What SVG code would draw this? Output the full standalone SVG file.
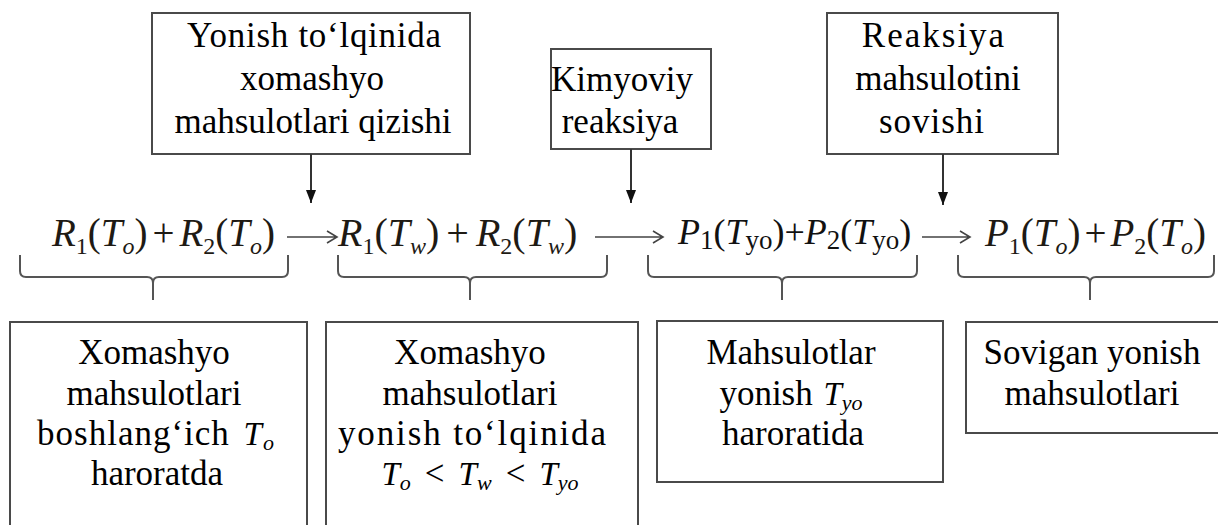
<svg xmlns="http://www.w3.org/2000/svg" width="1218" height="525" viewBox="0 0 1218 525">
<style>
  .box { fill: #fff; stroke: #4a4a4a; stroke-width: 2; }
  .t { font-family: "Liberation Serif", "Times New Roman", Tinos, serif; font-size: 35px; fill: #000; text-anchor: middle; }
  .eq { font-family: "Liberation Serif", "Times New Roman", Tinos, serif; font-size: 39px; fill: #1e1a14; }
  .eqw { font-size: 40px; }
  .eq2 { font-family: "Liberation Serif", "Times New Roman", Tinos, serif; font-size: 36px; fill: #111; }
  .i { font-style: italic; }
  .s { font-size: 24px; }
  .s2 { font-size: 27px; }
  .mT { font-size: 33px; font-style: italic; }
  .ms { font-size: 22px; font-style: italic; }
  .conn { stroke: #333; stroke-width: 2; fill: none; }
  .arr { stroke: #444; stroke-width: 1.6; fill: none; }
  .brace { stroke: #555; stroke-width: 2; fill: none; }
</style>
<defs>
  <marker id="head" markerUnits="userSpaceOnUse" markerWidth="13" markerHeight="10" refX="13" refY="5" orient="auto">
    <path d="M0,0 L13,5 L0,10 z" fill="#111"/>
  </marker>
</defs>
<rect width="1218" height="525" fill="#fff"/>

<g id="box-heating">
  <rect class="box" x="152" y="13" width="318" height="141"/>
  <text class="t" x="314" y="47" textLength="254" lengthAdjust="spacing">Yonish to‘lqinida</text>
  <text class="t" x="312" y="90">xomashyo</text>
  <text class="t" x="313" y="133">mahsulotlari qizishi</text>
</g>
<g id="box-reaction">
  <rect class="box" x="551" y="49" width="160" height="100"/>
  <text class="t" x="622" y="91">Kimyoviy</text>
  <text class="t" x="620" y="133">reaksiya</text>
</g>
<g id="box-cooling">
  <rect class="box" x="827" y="13" width="231" height="141"/>
  <text class="t" x="934" y="47" letter-spacing="2">Reaksiya</text>
  <text class="t" x="938" y="90">mahsulotini</text>
  <text class="t" x="932" y="133" letter-spacing="1">sovishi</text>
</g>

<g id="formula">
  <text class="eq" x="52" y="246"><tspan class="i">R</tspan><tspan class="s" dy="8">1</tspan><tspan dy="-8">(</tspan><tspan class="i">T</tspan><tspan class="s i" dy="8">o</tspan><tspan dy="-8">)</tspan><tspan dx="5">+</tspan><tspan class="i" dx="5">R</tspan><tspan class="s" dy="8">2</tspan><tspan dy="-8">(</tspan><tspan class="i">T</tspan><tspan class="s i" dy="8">o</tspan><tspan dy="-8">)</tspan></text>
  <text class="eq eqw" x="338" y="246"><tspan class="i">R</tspan><tspan class="s" dy="8">1</tspan><tspan dy="-8">(</tspan><tspan class="i">T</tspan><tspan class="s i" dy="8">w</tspan><tspan dy="-8">)</tspan><tspan dx="7">+</tspan><tspan class="i" dx="7">R</tspan><tspan class="s" dy="8">2</tspan><tspan dy="-8">(</tspan><tspan class="i">T</tspan><tspan class="s i" dy="8">w</tspan><tspan dy="-8">)</tspan></text>
  <text class="eq2" x="678" y="244"><tspan class="i">P</tspan><tspan class="s2" dy="5">1</tspan><tspan dy="-5">(</tspan><tspan class="i">T</tspan><tspan class="s2" dy="5">yo</tspan><tspan dy="-5">)+</tspan><tspan class="i">P</tspan><tspan class="s2" dy="5">2</tspan><tspan dy="-5">(</tspan><tspan class="i">T</tspan><tspan class="s2" dy="5">yo</tspan><tspan dy="-5">)</tspan></text>
  <text class="eq" x="985" y="246"><tspan class="i">P</tspan><tspan class="s" dy="8">1</tspan><tspan dy="-8">(</tspan><tspan class="i">T</tspan><tspan class="s i" dy="8">o</tspan><tspan dy="-8">)</tspan><tspan dx="4">+</tspan><tspan class="i" dx="4">P</tspan><tspan class="s" dy="8">2</tspan><tspan dy="-8">(</tspan><tspan class="i">T</tspan><tspan class="s i" dy="8">o</tspan><tspan dy="-8">)</tspan></text>
</g>

<g id="connectors">
  <line class="conn" x1="311" y1="154" x2="311" y2="203" marker-end="url(#head)"/>
  <line class="conn" x1="631" y1="149" x2="631" y2="203" marker-end="url(#head)"/>
  <line class="conn" x1="943" y1="154" x2="943" y2="205" marker-end="url(#head)"/>
  <path class="arr" d="M287,237 H337 M327,231 L337,237 L327,243"/>
  <path class="arr" d="M595,237 H663 M653,231 L663,237 L653,243"/>
  <path class="arr" d="M922,237 H970 M960,231 L970,237 L960,243"/>
  <path class="brace" d="M20,255 V271 Q20,277 26,277 H147 Q153,277 153,283 V300 M153,283 Q153,277 159,277 H282 Q288,277 288,271 V255"/>
  <path class="brace" d="M338,255 V271 Q338,277 344,277 H464 Q470,277 470,283 V300 M470,283 Q470,277 476,277 H601 Q607,277 607,271 V255"/>
  <path class="brace" d="M648,255 V271 Q648,277 654,277 H776 Q782,277 782,283 V300 M782,283 Q782,277 788,277 H911 Q917,277 917,271 V255"/>
  <path class="brace" d="M958,255 V271 Q958,277 964,277 H1084 Q1090,277 1090,283 V300 M1090,283 Q1090,277 1096,277 H1208 Q1214,277 1214,271 V255"/>
</g>

<g id="box-initial">
  <rect class="box" x="10" y="322" width="297" height="230"/>
  <text class="t" x="154" y="364">Xomashyo</text>
  <text class="t" x="154" y="405">mahsulotlari</text>
  <text class="t" x="156" y="445" letter-spacing="1">boshlang‘ich <tspan class="mT" dx="4">T</tspan><tspan class="ms" dy="5">o</tspan></text>
  <text class="t" x="157" y="485">haroratda</text>
</g>
<g id="box-heated">
  <rect class="box" x="326" y="322" width="312" height="230"/>
  <text class="t" x="470" y="364">Xomashyo</text>
  <text class="t" x="470" y="405">mahsulotlari</text>
  <text class="t" x="472" y="445" textLength="268" lengthAdjust="spacing">yonish to‘lqinida</text>
  <text class="t" x="480" y="485"><tspan class="mT">T</tspan><tspan class="ms" dy="5">o</tspan><tspan dy="-5" dx="14">&lt;</tspan><tspan class="mT" dx="14">T</tspan><tspan class="ms" dy="5">w</tspan><tspan dy="-5" dx="14">&lt;</tspan><tspan class="mT" dx="14">T</tspan><tspan class="ms" dy="5">yo</tspan></text>
</g>
<g id="box-burning">
  <rect class="box" x="657" y="321" width="286" height="161"/>
  <text class="t" x="791" y="364">Mahsulotlar</text>
  <text class="t" x="791" y="405">yonish <tspan class="mT" dx="2">T</tspan><tspan class="ms" dy="5">yo</tspan></text>
  <text class="t" x="793" y="445">haroratida</text>
</g>
<g id="box-cooled">
  <rect class="box" x="966" y="322" width="260" height="111"/>
  <text class="t" x="1092" y="364">Sovigan yonish</text>
  <text class="t" x="1092" y="405">mahsulotlari</text>
</g>
</svg>
